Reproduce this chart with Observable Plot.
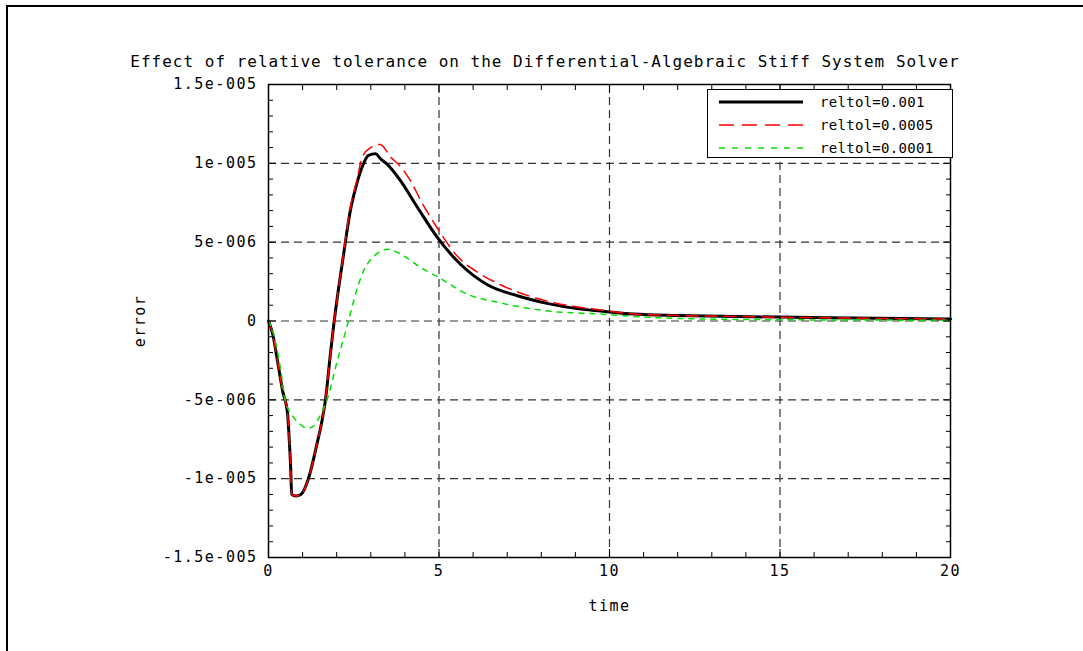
<!DOCTYPE html>
<html>
<head>
<meta charset="utf-8">
<script src="https://cdn.jsdelivr.net/npm/d3@7"></script>
<script src="https://cdn.jsdelivr.net/npm/@observablehq/plot@0.6"></script>
<style>
  body { margin: 0; background: #fff; }
  #wrap { position: relative; width: 1083px; height: 651px; overflow: hidden; font-family: "DejaVu Sans Mono", monospace; background: #fff; }
  #border { position: absolute; left: 6px; top: 5px; width: 1200px; height: 800px; border-top: 2px solid #000; border-left: 2px solid #000; }
  #title { position: absolute; left: 0; width: 1090px; top: 52px; text-align: center; font-size: 16px; letter-spacing: 1px; color: #000; white-space: nowrap; }
  #chart { position: absolute; left: 0; top: 0; }
  #chart svg text { letter-spacing: 1.5px; }
  #legend { position: absolute; left: 707px; top: 89px; width: 244px; height: 67px; border: 1px solid #000; background: #fff; }
  .row { position: absolute; left: 0; height: 20px; width: 244px; }
  .row svg { position: absolute; left: 10px; top: 0; }
  .row span { position: absolute; left: 112px; top: 2px; font-size: 14px; letter-spacing: 0.3px; }
</style>
</head>
<body>
<div id="wrap">
  <div id="border"></div>
  <div id="title">Effect of relative tolerance on the Differential-Algebraic Stiff System Solver</div>
  <div id="chart"></div>
  <div id="legend"></div>
</div>
<script>
// ---- data ----
const seriesNames = ["reltol=0.001", "reltol=0.0005", "reltol=0.0001"];

const tBlack = [0, 0.12, 0.3, 0.41, 0.56, 0.6, 0.65, 0.68, 0.8, 0.95, 1.17, 1.4, 1.58, 1.67, 1.82, 1.91, 2.05, 2.2, 2.4, 2.55, 2.79, 2.93, 3.14, 3.28, 3.5, 3.87, 4.37, 4.95, 5.63, 6.42, 7.3, 8.2, 9.0, 9.74, 10.7, 12, 13.3, 16.4, 20];
const eBlack = [0, -0.8e-6, -3.0e-6, -4.4e-6, -5.9e-6, -7.2e-6, -9.3e-6, -1.1e-5, -1.11e-5, -1.1e-5, -1.0e-5, -8.0e-6, -6.2e-6, -5.0e-6, -2.0e-6, -0.3e-6, 2.0e-6, 4.2e-6, 7.0e-6, 8.4e-6, 1.0e-5, 1.05e-5, 1.06e-5, 1.03e-5, 9.9e-6, 8.9e-6, 7.2e-6, 5.3e-6, 3.6e-6, 2.3e-6, 1.6e-6, 1.1e-6, 0.8e-6, 0.63e-6, 0.44e-6, 0.35e-6, 0.3e-6, 0.2e-6, 0.12e-6];

const tRed = [0, 0.12, 0.3, 0.41, 0.56, 0.6, 0.65, 0.68, 0.8, 0.95, 1.17, 1.4, 1.58, 1.67, 1.82, 1.91, 2.05, 2.2, 2.4, 2.6, 2.75, 3.0, 3.28, 3.58, 3.87, 4.16, 4.5, 4.95, 5.54, 6.2, 6.8, 7.77, 8.5, 9.74, 10.7, 12, 13.3, 16.4, 20];
const eRed = [0, -0.8e-6, -3.0e-6, -4.4e-6, -5.9e-6, -7.2e-6, -9.3e-6, -1.1e-5, -1.11e-5, -1.1e-5, -1.0e-5, -8.0e-6, -6.2e-6, -5.0e-6, -2.0e-6, -0.3e-6, 2.0e-6, 4.3e-6, 7.2e-6, 9.0e-6, 1.04e-5, 1.1e-5, 1.12e-5, 1.04e-5, 9.8e-6, 8.9e-6, 7.5e-6, 5.9e-6, 4.1e-6, 3.0e-6, 2.3e-6, 1.5e-6, 1.1e-6, 0.7e-6, 0.45e-6, 0.35e-6, 0.3e-6, 0.2e-6, 0.12e-6];

const tGreen = [0, 0.12, 0.35, 0.5, 0.7, 0.9, 1.14, 1.3, 1.44, 1.6, 1.73, 2.02, 2.32, 2.5, 2.79, 3.0, 3.2, 3.49, 3.87, 4.46, 5.04, 5.83, 6.8, 8.2, 9.74, 11, 12.7, 15, 20];
const eGreen = [0, -0.6e-6, -3.0e-6, -5.1e-6, -6.0e-6, -6.5e-6, -6.8e-6, -6.7e-6, -6.3e-6, -5.6e-6, -4.9e-6, -2.5e-6, -0.2e-6, 1.3e-6, 3.2e-6, 3.9e-6, 4.3e-6, 4.55e-6, 4.25e-6, 3.4e-6, 2.7e-6, 1.7e-6, 1.15e-6, 0.63e-6, 0.44e-6, 0.25e-6, 0.13e-6, 0.08e-6, 0.05e-6];

const xMajor = [0, 5, 10, 15, 20];
const xMinor = [1, 2, 3, 4, 6, 7, 8, 9, 11, 12, 13, 14, 16, 17, 18, 19];
const yMajor = [-1.5e-5, -1e-5, -5e-6, 0, 5e-6, 1e-5, 1.5e-5];
const yMinor = [-1.4e-5, -1.3e-5, -1.2e-5, -1.1e-5, -9e-6, -8e-6, -7e-6, -6e-6, -4e-6, -3e-6, -2e-6, -1e-6,
                1e-6, 2e-6, 3e-6, 4e-6, 6e-6, 7e-6, 8e-6, 9e-6, 1.1e-5, 1.2e-5, 1.3e-5, 1.4e-5];
const xGrid = [5, 10, 15];
const yGrid = [-1e-5, -5e-6, 0, 5e-6, 1e-5];

// ---- build ----
const toRows = (t, e) => t.map((v, i) => ({t: v, e: e[i]}));
const black = toRows(tBlack, eBlack);
const red = toRows(tRed, eRed);
const green = toRows(tGreen, eGreen);

const fmtY = d => {
  if (d === 0) return "0";
  const e = Math.floor(Math.log10(Math.abs(d)) + 1e-9);
  const m = +(d / Math.pow(10, e)).toFixed(3);
  return `${m}e${e < 0 ? "-" : "+"}${String(Math.abs(e)).padStart(3, "0")}`;
};

const gridStyle = {stroke: "#333", strokeOpacity: 1, strokeWidth: 1.2, strokeDasharray: "8,5"};

const chart = Plot.plot({
  width: 1083,
  height: 651,
  marginLeft: 268,
  marginRight: 133,
  marginTop: 84,
  marginBottom: 94,
  x: {domain: [0, 20]},
  y: {domain: [-1.5e-5, 1.5e-5]},
  style: {fontFamily: "'DejaVu Sans Mono', monospace", fontSize: "15px", color: "#000", background: "transparent", overflow: "visible"},
  marks: [
    Plot.gridX(xGrid, gridStyle),
    Plot.gridY(yGrid, gridStyle),
    Plot.line(black, {x: "t", y: "e", stroke: "#000", strokeWidth: 3, curve: "monotone-x"}),
    Plot.line(red, {x: "t", y: "e", stroke: "#ff0000", strokeWidth: 1.5, strokeDasharray: "12,7", curve: "monotone-x"}),
    Plot.line(green, {x: "t", y: "e", stroke: "#00e000", strokeWidth: 1.5, strokeDasharray: "5,6", curve: "monotone-x"}),
    Plot.frame({stroke: "#000", strokeWidth: 1.5}),
    Plot.axisX(xMinor, {anchor: "bottom", tickSize: -5, fill: "none", label: null}),
    Plot.axisX(xMinor, {anchor: "top", tickSize: -5, fill: "none", label: null}),
    Plot.axisX(xMajor, {anchor: "top", tickSize: -8, fill: "none", label: null}),
    Plot.axisX(xMajor, {anchor: "bottom", tickSize: -8, tickPadding: 16, label: "time", labelArrow: "none", labelAnchor: "center", labelOffset: 53}),
    Plot.axisY(yMinor, {anchor: "left", tickSize: -5, fill: "none", label: null}),
    Plot.axisY(yMinor, {anchor: "right", tickSize: -5, fill: "none", label: null}),
    Plot.axisY(yMajor, {anchor: "right", tickSize: -8, fill: "none", label: null}),
    Plot.axisY(yMajor, {anchor: "left", tickSize: -8, tickPadding: 19, tickFormat: fmtY, label: "error", labelArrow: "none", labelAnchor: "center", labelOffset: 134})
  ]
});
document.getElementById("chart").appendChild(chart);

// ---- legend ----
const legendStyles = [
  {stroke: "#000", width: 3, dash: null},
  {stroke: "#ff0000", width: 1.5, dash: "15,8"},
  {stroke: "#00e000", width: 1.5, dash: "6,7"}
];
const legend = document.getElementById("legend");
seriesNames.forEach((name, i) => {
  const row = document.createElement("div");
  row.className = "row";
  row.style.top = (2 + i * 23) + "px";
  const s = legendStyles[i];
  row.innerHTML = `<svg width="86" height="20"><line x1="1" x2="85" y1="10" y2="10" stroke="${s.stroke}" stroke-width="${s.width}" ${s.dash ? `stroke-dasharray="${s.dash}"` : ""}/></svg><span>${name}</span>`;
  legend.appendChild(row);
});
</script>
</body>
</html>
